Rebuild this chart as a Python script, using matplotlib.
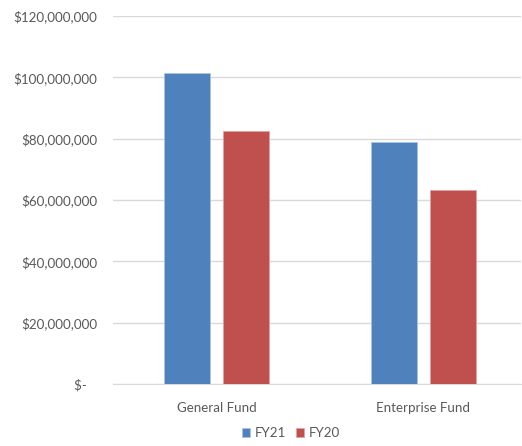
import matplotlib
matplotlib.use("Agg")
import matplotlib.pyplot as plt
import numpy as np
from matplotlib.ticker import FuncFormatter

categories = ["General Fund", "Enterprise Fund"]
fy21 = [101400000, 78900000]
fy20 = [82500000, 63300000]
series_names = ["FY21", "FY20"]

plt.rcParams['font.family'] = ['Lato', 'DejaVu Sans']
text_color = "#595959"

fig = plt.figure(figsize=(5.22, 4.46), dpi=100)
ax = fig.add_axes([113/522, 1-384/446, 408/522, 368/446])

x = np.arange(len(categories))
w = 0.222
off = 0.142
ax.bar(x - off, fy21, width=w, color="#4F81BD", edgecolor="#A9C3E3", linewidth=0.6, label=series_names[0], zorder=3)
ax.bar(x + off, fy20, width=w, color="#C0504D", edgecolor="#E0A3A1", linewidth=0.6, label=series_names[1], zorder=3)

ax.set_ylim(0, 120000000)
ax.set_yticks(np.arange(0, 120000001, 20000000))
ax.set_xlim(-0.5, 1.5 - 6/207)
ax.set_xticks(x)
ax.set_xticklabels(categories)

def fmt(v, pos):
    if v == 0:
        return "$-   "
    return "${:,.0f}".format(v)
ax.yaxis.set_major_formatter(FuncFormatter(fmt))

ax.grid(axis='y', color="#D9D9D9", linewidth=1, zorder=0)
for s in ["top", "right", "left"]:
    ax.spines[s].set_visible(False)
ax.spines["bottom"].set_color("#D9D9D9")
ax.tick_params(axis='both', length=0, labelsize=9.6, colors=text_color)
ax.tick_params(axis='y', pad=11.5)
ax.tick_params(axis='x', pad=13)

leg = fig.legend(loc='center', bbox_to_anchor=(291/522, 1-433/446), ncol=2, frameon=False,
                 fontsize=9.6, handlelength=0.6, handleheight=0.6, handletextpad=0.35,
                 columnspacing=0.8)
for t in leg.get_texts():
    t.set_color(text_color)

fig.savefig("out.png", dpi=100)
